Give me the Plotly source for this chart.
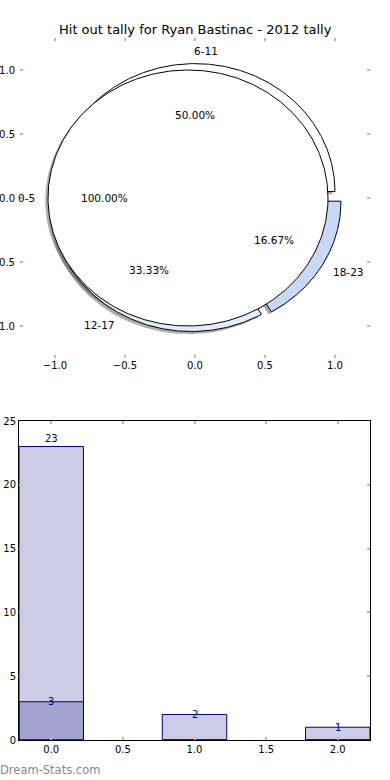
import numpy as np
import plotly.graph_objects as go

# ---------------- data ----------------
chart_title = "Hit out tally for Ryan Bastinac - 2012 tally"
slice_labels = ["0-5", "6-11", "12-17", "18-23"]
slice_fractions = [1.0, 0.5, 0.3333, 0.1667]
slice_pct_text = ["100.00%", "50.00%", "33.33%", "16.67%"]

bar_positions = [0, 1, 2]
series_total = [23, 0, 0]
series_period = [3, 2, 1]

x_ticks_pie = [-1.0, -0.5, 0.0, 0.5, 1.0]
y_ticks_pie = [-1.0, -0.5, 0.0, 0.5, 1.0]
x_ticks_bar = [0.0, 0.5, 1.0, 1.5, 2.0]
y_ticks_bar = [0, 5, 10, 15, 20, 25]

# ---------------- style ----------------
slice_colors = ["#ffffff", "#ffffff", "#e4ecfc", "#c6d9f8"]
explode = 0.05
shadow_off = -0.02
W, H = 390, 780
FONT = "DejaVu Sans"
bar_fill = "rgba(0,0,128,0.2)"
navy = "#000080"
tick_grey = "#b8b8b8"

fig = go.Figure()


def wedge_path(cx, cy, t1, t2):
    th = np.radians(np.linspace(t1, t2, 361))
    xs = cx + np.cos(th)
    ys = cy + np.sin(th)
    if abs((t2 - t1) - 360) < 1e-9:
        return list(xs), list(ys)
    return [cx] + list(xs) + [cx], [cy] + list(ys) + [cy]


wedges = []
cum = 0.0
for lab, frac, col, pct in zip(slice_labels, slice_fractions, slice_colors, slice_pct_text):
    t1 = cum * 360.0
    t2 = (cum + frac) * 360.0
    cum += frac
    tm = np.radians((t1 + t2) / 2.0)
    cx = explode * np.cos(tm)
    cy = explode * np.sin(tm)
    wedges.append((lab, col, pct, t1, t2, tm, cx, cy))

# shadows
for lab, col, pct, t1, t2, tm, cx, cy in wedges:
    xs, ys = wedge_path(cx + shadow_off, cy + shadow_off, t1, t2)
    fig.add_trace(go.Scatter(x=xs, y=ys, mode="lines", fill="toself",
                             fillcolor="rgba(70,70,70,0.45)",
                             line=dict(width=0, color="rgba(0,0,0,0)"),
                             hoverinfo="skip", xaxis="x", yaxis="y"))

# wedges: the full-circle first slice is drawn on top
order = list(range(1, len(wedges))) + [0]
for i in order:
    lab, col, pct, t1, t2, tm, cx, cy = wedges[i]
    xs, ys = wedge_path(cx, cy, t1, t2)
    fig.add_trace(go.Scatter(x=xs, y=ys, mode="lines", fill="toself",
                             fillcolor=col, line=dict(width=1, color="black"),
                             hoverinfo="skip", xaxis="x", yaxis="y"))

annotations = []
for lab, col, pct, t1, t2, tm, cx, cy in wedges:
    lx = cx + 1.1 * np.cos(tm)
    ly = cy + 1.1 * np.sin(tm)
    right_side = np.cos(tm) > 0
    annotations.append(dict(x=lx, y=ly, xref="x", yref="y", text=lab, showarrow=False,
                            xanchor="left" if right_side else "right", yanchor="middle",
                            xshift=-3 if right_side else 3,
                            font=dict(family=FONT, size=10.5, color="black")))
    px = cx + 0.6 * np.cos(tm)
    py = cy + 0.6 * np.sin(tm)
    annotations.append(dict(x=px, y=py, xref="x", yref="y", text=pct, showarrow=False,
                            xanchor="center", yanchor="middle",
                            font=dict(family=FONT, size=10.5, color="black")))

# bars
fig.add_trace(go.Bar(x=bar_positions, y=series_total, width=0.45,
                     marker=dict(color=bar_fill, line=dict(color=navy, width=1)),
                     xaxis="x2", yaxis="y2", hoverinfo="skip"))
fig.add_trace(go.Bar(x=bar_positions, y=series_period, width=0.45,
                     marker=dict(color=bar_fill, line=dict(color=navy, width=1)),
                     xaxis="x2", yaxis="y2", hoverinfo="skip"))

for xv, v in zip(bar_positions, series_total):
    if v > 0:
        annotations.append(dict(x=xv, y=v, xref="x2", yref="y2", text=str(v), showarrow=False,
                                xanchor="center", yanchor="bottom", yshift=1,
                                font=dict(family=FONT, size=10, color=navy)))
for xv, v in zip(bar_positions, series_period):
    if v > 0:
        annotations.append(dict(x=xv, y=v, xref="x2", yref="y2", text=str(v), showarrow=False,
                                xanchor="center", yanchor="middle",
                                font=dict(family=FONT, size=10, color=navy)))

annotations.append(dict(x=195 / W, y=1 - 30 / H, xref="paper", yref="paper", text=chart_title,
                        showarrow=False, xanchor="center", yanchor="middle",
                        font=dict(family=FONT, size=13, color="black")))
annotations.append(dict(x=-0.004, y=(H - 770) / H, xref="paper", yref="paper", text="Dream-Stats.com",
                        showarrow=False, xanchor="left", yanchor="middle",
                        font=dict(family=FONT, size=11.5, color="#8a8a8a")))

axis_common = dict(showgrid=False, zeroline=False, ticks="inside", ticklen=3,
                   tickcolor=tick_grey, tickwidth=1.5, mirror="ticks", automargin=False,
                   tickfont=dict(family=FONT, size=10, color="black"))

fig.update_layout(
    width=W, height=H, margin=dict(l=0, r=0, t=0, b=0, pad=0, autoexpand=False),
    paper_bgcolor="white", plot_bgcolor="white", showlegend=False,
    barmode="overlay", annotations=annotations,
    xaxis=dict(domain=[20 / W, 370 / W], range=[-1.25, 1.25], tickvals=x_ticks_pie,
               tickformat=".1f", showline=False, anchor="y", **axis_common),
    yaxis=dict(domain=[(H - 358) / H, (H - 38) / H], range=[-1.25, 1.25], tickvals=y_ticks_pie,
               tickformat=".1f", showline=False, anchor="x", ticklabelstandoff=4, **axis_common),
    xaxis2=dict(domain=[19 / W, 370 / W], range=[-0.225, 2.225], tickvals=x_ticks_bar,
                tickformat=".1f", showline=True, linecolor="black", linewidth=1, anchor="y2",
                **axis_common),
    yaxis2=dict(domain=[(H - 740) / H, (H - 421) / H], range=[0, 25], tickvals=y_ticks_bar,
                showline=True, linecolor="black", linewidth=1, anchor="x2", **axis_common),
)

fig.write_html("out.html", config={"displayModeBar": False},
               post_script="document.body.style.margin='0px';document.body.style.overflow='hidden';")
